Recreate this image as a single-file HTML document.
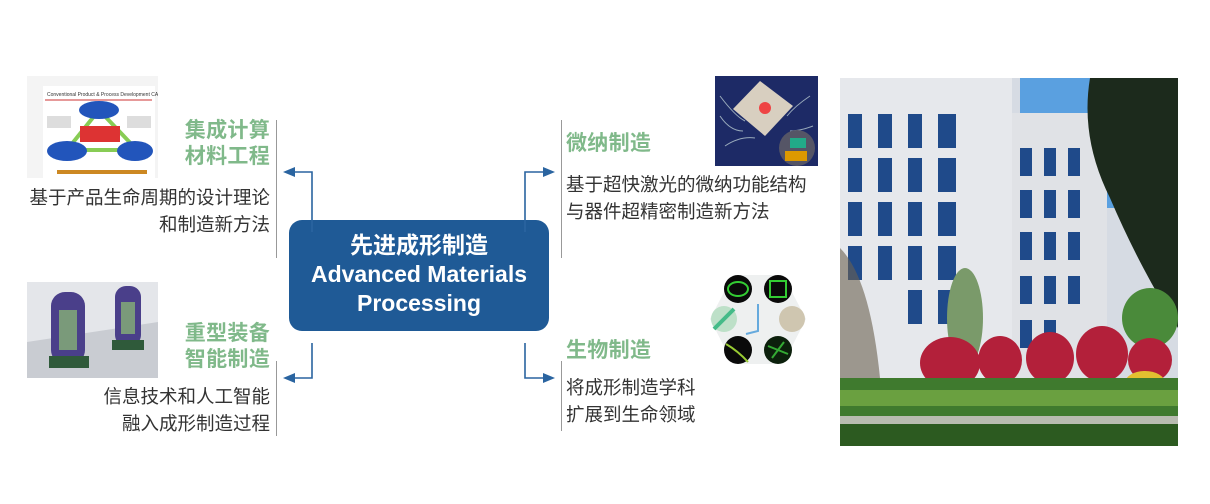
<!DOCTYPE html>
<html><head><meta charset="utf-8"><style>
body{margin:0;width:1210px;height:504px;background:#fff;position:relative;overflow:hidden;font-family:"Liberation Sans","Noto Sans CJK SC",sans-serif}
.a{position:absolute}
.h{font-weight:bold;color:#80b98a;font-size:21px;line-height:26px;letter-spacing:0.3px}
.d{color:#333;font-size:18.5px;line-height:27px}
.r{text-align:right}
.vl{position:absolute;width:1px;background:#999}
</style></head><body>
<div class="a" style="left:289px;top:220px;width:260px;height:111px;background:#1f5a96;border-radius:13px;color:#fff;font-weight:bold;text-align:center;font-size:23px;line-height:29px;padding-top:11px;box-sizing:border-box;white-space:nowrap">先进成形制造<br>Advanced Materials<br>Processing</div>

<svg class="a" style="left:0;top:0" width="1210" height="504">
<g stroke="#2a64a0" stroke-width="1.6" fill="none">
<polyline points="312,232 312,172 292,172"/>
<polyline points="312,343 312,378 292,378"/>
<polyline points="525,232 525,172 546,172"/>
<polyline points="525,343 525,378 546,378"/>
</g>
<g fill="#2a64a0">
<polygon points="283,172 295,167 295,177"/>
<polygon points="283,378 295,373 295,383"/>
<polygon points="555,172 543,167 543,177"/>
<polygon points="555,378 543,373 543,383"/>
</g>
</svg>

<div class="vl" style="left:276px;top:120px;height:138px"></div>
<div class="vl" style="left:276px;top:361px;height:75px"></div>
<div class="vl" style="left:561px;top:120px;height:138px"></div>
<div class="vl" style="left:561px;top:361px;height:70px"></div>

<div class="a h r" style="right:940px;top:118px">集成计算<br>材料工程</div>
<div class="a d r" style="right:940px;top:184px;white-space:nowrap">基于产品生命周期的设计理论<br>和制造新方法</div>
<div class="a h r" style="right:940px;top:321px">重型装备<br>智能制造</div>
<div class="a d r" style="right:940px;top:383px;white-space:nowrap">信息技术和人工智能<br>融入成形制造过程</div>

<div class="a h" style="left:566px;top:131px">微纳制造</div>
<div class="a d" style="left:566px;top:171px;white-space:nowrap">基于超快激光的微纳功能结构<br>与器件超精密制造新方法</div>
<div class="a h" style="left:566px;top:338px">生物制造</div>
<div class="a d" style="left:566px;top:374px;white-space:nowrap">将成形制造学科<br>扩展到生命领域</div>

<svg class="a" style="left:27px;top:76px" width="131" height="102">
<rect width="131" height="102" fill="#f4f4f4"/>
<rect x="16" y="10" width="112" height="92" fill="#fff"/>
<line x1="18" y1="24" x2="125" y2="24" stroke="#c33" stroke-width="1"/>
<text x="20" y="20" font-size="5" fill="#333">Conventional Product &amp; Process Development CAE</text>
<polygon points="72,34 40,74 110,74" fill="none" stroke="#8c5" stroke-width="4"/>
<rect x="53" y="50" width="40" height="16" fill="#d33"/>
<ellipse cx="72" cy="34" rx="20" ry="9" fill="#2255bb"/>
<ellipse cx="40" cy="75" rx="20" ry="10" fill="#2255bb"/>
<ellipse cx="108" cy="75" rx="18" ry="10" fill="#2255bb"/>
<rect x="20" y="40" width="24" height="12" fill="#ddd"/>
<rect x="100" y="40" width="24" height="12" fill="#ddd"/>
<rect x="30" y="94" width="90" height="4" fill="#c82"/>
</svg>

<svg class="a" style="left:27px;top:282px" width="131" height="96">
<rect width="131" height="96" fill="#e4e6ea"/>
<polygon points="0,60 131,40 131,96 0,96" fill="#c9ccd2"/>
<rect x="24" y="10" width="34" height="72" rx="14" fill="#4a3f8a"/>
<rect x="32" y="28" width="18" height="40" fill="#7a9a7a"/>
<rect x="22" y="74" width="40" height="12" fill="#2f5a3a"/>
<rect x="88" y="4" width="26" height="60" rx="11" fill="#4a3f8a"/>
<rect x="94" y="20" width="14" height="32" fill="#7a9a7a"/>
<rect x="85" y="58" width="32" height="10" fill="#2f5a3a"/>
</svg>

<svg class="a" style="left:715px;top:76px" width="103" height="90">
<rect width="103" height="90" fill="#1d2a66"/>
<g stroke="#9ab" stroke-width="1" fill="none">
<path d="M5,20 Q20,40 30,45 M5,40 Q15,55 28,55 M10,70 Q25,60 40,62 M95,20 Q80,30 72,40 M98,50 Q85,55 75,55 M90,75 Q80,60 70,60"/>
</g>
<polygon points="45,5 78,30 50,60 18,33" fill="#d8cfc0"/>
<circle cx="50" cy="32" r="6" fill="#e44"/>
<circle cx="82" cy="72" r="18" fill="#556"/>
<rect x="75" y="62" width="16" height="10" fill="#2a8"/>
<rect x="70" y="75" width="22" height="10" fill="#d90"/>
</svg>

<svg class="a" style="left:708px;top:271px" width="100" height="97">
<rect width="100" height="97" fill="#fff"/>
<polygon points="25,4 75,4 98,48 75,93 25,93 2,48" fill="#eef0f0"/>
<circle cx="30" cy="18" r="14" fill="#0a0a0a"/><ellipse cx="30" cy="18" rx="10" ry="7" fill="none" stroke="#3c3" stroke-width="2"/>
<circle cx="70" cy="18" r="14" fill="#0a0a0a"/><rect x="62" y="10" width="16" height="16" fill="none" stroke="#3c3" stroke-width="2"/>
<circle cx="16" cy="48" r="13" fill="#bde0c8"/><line x1="6" y1="58" x2="26" y2="38" stroke="#4b8" stroke-width="4"/>
<circle cx="84" cy="48" r="13" fill="#cfc6b0"/>
<circle cx="30" cy="79" r="14" fill="#0a0a0a"/><path d="M18,73 Q30,80 40,91" stroke="#9c3" stroke-width="2" fill="none"/>
<circle cx="70" cy="79" r="14" fill="#0c200c"/><path d="M60,75 L80,83 M64,87 L76,71" stroke="#3a3" stroke-width="2"/>
<path d="M50,33 L50,60 L38,63" stroke="#6ad" stroke-width="2" fill="none"/>
</svg>

<svg class="a" style="left:840px;top:78px" width="338" height="368">
<rect width="338" height="368" fill="#d6dbe3"/>
<rect x="180" y="0" width="158" height="130" fill="#5aa0e0"/>
<rect x="0" y="0" width="172" height="300" fill="#e6e8ec"/>
<rect x="172" y="35" width="95" height="265" fill="#e0e2e6"/>
<g fill="#1f4a8a">
<rect x="8" y="36" width="14" height="34"/><rect x="38" y="36" width="14" height="34"/><rect x="68" y="36" width="14" height="34"/><rect x="98" y="36" width="18" height="34"/>
<rect x="8" y="80" width="14" height="34"/><rect x="38" y="80" width="14" height="34"/><rect x="68" y="80" width="14" height="34"/><rect x="98" y="80" width="18" height="34"/>
<rect x="8" y="124" width="14" height="34"/><rect x="38" y="124" width="14" height="34"/><rect x="68" y="124" width="14" height="34"/><rect x="98" y="124" width="18" height="34"/>
<rect x="8" y="168" width="14" height="34"/><rect x="38" y="168" width="14" height="34"/><rect x="68" y="168" width="14" height="34"/><rect x="98" y="168" width="18" height="34"/>
<rect x="68" y="212" width="14" height="34"/><rect x="98" y="212" width="18" height="34"/>
<rect x="180" y="70" width="12" height="28"/><rect x="204" y="70" width="12" height="28"/><rect x="228" y="70" width="12" height="28"/>
<rect x="180" y="112" width="12" height="28"/><rect x="204" y="112" width="12" height="28"/><rect x="228" y="112" width="12" height="28"/>
<rect x="180" y="154" width="12" height="28"/><rect x="204" y="154" width="12" height="28"/><rect x="228" y="154" width="12" height="28"/>
<rect x="180" y="198" width="12" height="28"/><rect x="204" y="198" width="12" height="28"/><rect x="228" y="198" width="12" height="28"/>
<rect x="180" y="242" width="12" height="28"/><rect x="204" y="242" width="12" height="28"/>
</g>
<path d="M250,0 L338,0 L338,250 Q300,190 270,120 Q240,60 250,0Z" fill="#1c2a1c"/>
<path d="M0,170 Q30,200 40,300 L0,300Z" fill="#6a6050" opacity="0.6"/>
<ellipse cx="125" cy="240" rx="18" ry="50" fill="#7a9a6a"/>
<ellipse cx="310" cy="240" rx="28" ry="30" fill="#4a8a3a"/>
<g fill="#b3203a">
<ellipse cx="110" cy="285" rx="30" ry="26"/><ellipse cx="160" cy="282" rx="22" ry="24"/><ellipse cx="210" cy="280" rx="24" ry="26"/><ellipse cx="262" cy="276" rx="26" ry="28"/><ellipse cx="310" cy="282" rx="22" ry="22"/>
</g>
<ellipse cx="305" cy="305" rx="20" ry="12" fill="#e2c030"/>
<rect x="0" y="300" width="338" height="68" fill="#3f7a2e"/>
<rect x="0" y="312" width="338" height="16" fill="#6aa040"/>
<rect x="0" y="338" width="338" height="8" fill="#b8bcb0"/>
<rect x="0" y="346" width="338" height="22" fill="#2c5a20"/>
</svg>
</body></html>
